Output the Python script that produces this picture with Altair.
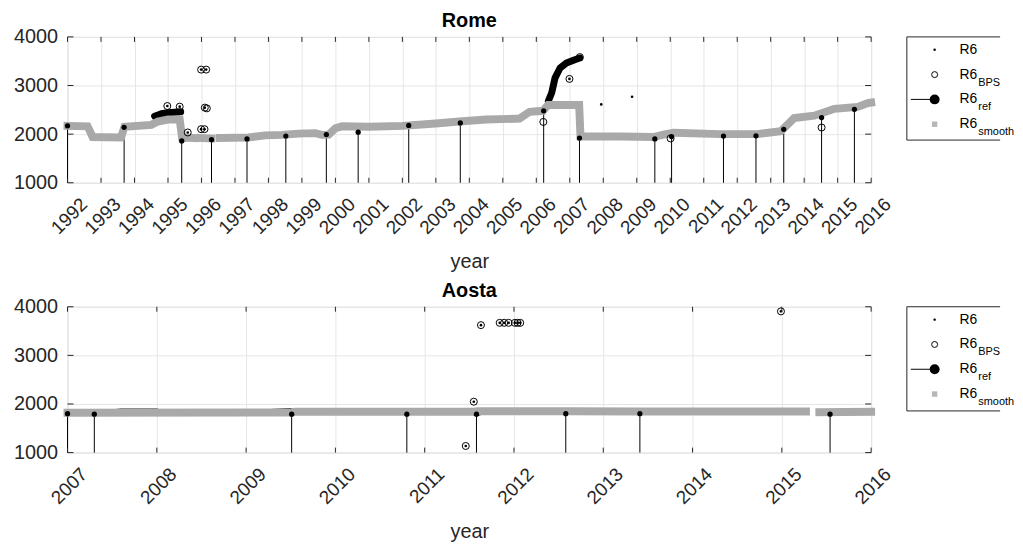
import altair as alt
import pandas as pd

FONT = "Liberation Sans"
W, H = 810, 147
GRAY = "#a9a9a9"
INK = "#262626"

# ---------------- Rome ----------------
rome_ticks = [1992, 1993, 1994, 1995, 1996, 1997, 1998, 1999, 2000, 2001, 2002, 2003,
              2004, 2005, 2006, 2007, 2008, 2009, 2010, 2011, 2012, 2013, 2014, 2015, 2016]

rome_smooth_year = [1992.0, 1992.6, 1992.75, 1993.6, 1993.7, 1994.5, 1994.7, 1995.0, 1995.35, 1995.42, 1995.8,
                    1995.93, 1996.3,
                    1996.55, 1997.4, 1997.9, 1998.4, 1998.9, 1999.4, 1999.6, 1999.8, 2000.0, 2000.2, 2001.0,
                    2002.0, 2003.0, 2003.7, 2004.5, 2005.5, 2005.8, 2006.2, 2006.35, 2007.28, 2007.32, 2008.5,
                    2009.5, 2009.8, 2010.1, 2011.5, 2012.6, 2013.3, 2013.7, 2014.3, 2014.9, 2015.6, 2015.9, 2016.0]
rome_smooth_val = [2170, 2160, 1940, 1930, 2150, 2190, 2260, 2300, 2300, 1930, 1920,
                   1920, 1910,
                   1920, 1930, 1975, 1985, 2010, 2020, 1985, 1990, 2120, 2160, 2150,
                   2170, 2220, 2260, 2300, 2320, 2460, 2480, 2600, 2600, 1950, 1950,
                   1940, 1990, 2030, 2000, 2000, 2060, 2330, 2380, 2520, 2560, 2640, 2650]
rome_smooth_seg = [0] * 11 + [1] * 2 + [2] * 34

rome_raw_year = [1992.0, 1992.6, 1992.72, 1993.6, 1993.68, 1994.5, 1994.6, 1995.38,
                 1995.42, 1995.8,
                 1995.9, 1996.3,
                 1996.6, 1997.4, 1997.9, 1998.5, 1998.9, 1999.4, 1999.6, 1999.8, 2000.0, 2000.7, 2002.0,
                 2003.0, 2003.7, 2004.5, 2005.5, 2005.8, 2006.2, 2006.3,
                 2007.3, 2008.5, 2009.5, 2009.8, 2010.1, 2011.5, 2012.6, 2013.3, 2013.7, 2014.3, 2014.9,
                 2015.6, 2015.9, 2016.0]
rome_raw_val = [2180, 2170, 1930, 1910, 2140, 2200, 2300, 2300,
                1870, 1900,
                1900, 1880,
                1910, 1900, 1990, 1995, 2030, 2035, 1980, 2000, 2140, 2175, 2185,
                2235, 2285, 2315, 2335, 2475, 2495, 2560,
                1935, 1965, 1925, 2005, 2045, 2012, 2012, 2075, 2345, 2395, 2535,
                2575, 2650, 2665]
rome_raw_seg = [0] * 8 + [1] * 2 + [2] * 2 + [3] * 18 + [4] * 14

rome_hi_year = [1994.6, 1994.8, 1995.0, 1995.2, 1995.38,
                2006.36, 2006.46, 2006.56, 2006.71, 2006.9, 2007.15, 2007.3]
rome_hi_val = [2370, 2420, 2440, 2450, 2460,
               2680, 2850, 3157, 3361, 3463, 3531, 3565]
rome_hi_seg = [0] * 5 + [1] * 7

rome_ref_year = [1992.0, 1993.69, 1995.41, 1996.30, 1997.36, 1998.52, 1999.73, 2000.68, 2002.19,
                 2003.73, 2006.22, 2007.29, 2009.54, 2010.04, 2011.59, 2012.56, 2013.39, 2014.52, 2015.50]
rome_ref_val = [2170, 2140, 1860, 1885, 1900, 1960, 1990, 2040, 2180,
                2230, 2480, 1920, 1900, 1950, 1960, 1966, 2100, 2340, 2510]

rome_bps_year = [1994.98, 1995.35, 1995.59, 1995.99, 1996.14, 1996.10, 1996.16, 1995.99, 1996.09,
                 2006.21, 2006.99, 2007.30, 2010.01, 2014.52]
rome_bps_val = [2578, 2565, 2034, 3327, 3327, 2545, 2530, 2102, 2102,
                2251, 3136, 3585, 1912, 2136]

rome_dot_year = [1994.98, 1995.35, 1995.59, 1995.99, 1996.14, 1996.10, 1995.99, 1996.09,
                 2006.99, 2007.30, 2007.94, 2008.86]
rome_dot_val = [2578, 2565, 2034, 3327, 3327, 2545, 2102, 2102,
                3136, 3585, 2612, 2769]

# ---------------- Aosta ----------------
aosta_ticks = [2007, 2008, 2009, 2010, 2011, 2012, 2013, 2014, 2015, 2016]

aosta_smooth_year = [2007.0, 2009.5, 2009.55, 2011.55, 2011.6, 2012.6, 2013.4, 2015.27,
                     2015.42, 2016.0]
aosta_smooth_val = [1820, 1825, 1840, 1840, 1850, 1850, 1845, 1845,
                    1830, 1840]
aosta_smooth_seg = [0] * 8 + [1] * 2

aosta_raw_year = [2007.0, 2007.3, 2007.35, 2007.6, 2008.0, 2008.1, 2009.0, 2009.5, 2009.55, 2010.8,
                  2011.5, 2011.58, 2011.7, 2012.58, 2012.9, 2013.4, 2015.0, 2015.27,
                  2015.42, 2015.8, 2016.0]
aosta_raw_val = [1800, 1870, 1840, 1880, 1880, 1830, 1850, 1890, 1840, 1870,
                 1830, 1770, 1840, 1860, 1840, 1830, 1880, 1840,
                 1790, 1800, 1830]
aosta_raw_seg = [0] * 18 + [1] * 3

aosta_ref_year = [2007.0, 2007.30, 2009.51, 2010.80, 2011.58, 2012.58, 2013.41, 2015.54]
aosta_ref_val = [1800, 1790, 1790, 1790, 1790, 1800, 1800, 1790]

aosta_bps_year = [2011.46, 2011.55, 2011.63, 2011.84, 2011.89, 2011.94, 2012.01, 2012.04, 2012.07, 2014.99]
aosta_bps_val = [1136, 2047, 3622, 3669, 3669, 3669, 3669, 3669, 3669, 3905]

aosta_dot_year = aosta_bps_year
aosta_dot_val = aosta_bps_val

legend_main = ["R6", "R6", "R6", "R6"]
legend_sub = ["", "BPS", "ref", "smooth"]


def panel(title, x0, x1, ticks, sm, raw, hi, ref, bps, dots, box_h):
    xs = alt.Scale(domain=[x0, x1], nice=False, zero=False)
    ys = alt.Scale(domain=[1000, 4000], nice=False, zero=False)
    xaxis = alt.Axis(values=ticks, format="d", labelAngle=-45, labelAlign="right", labelBaseline="top",
                     labelPadding=12, labelOffset=10, ticks=False, domain=False, grid=True,
                     gridColor="#e6e6e6", labelFont=FONT, labelFontSize=19, labelColor=INK,
                     labelOverlap=False, labelFlush=False, title="year", titleFont=FONT,
                     titleFontSize=20, titleFontWeight="normal", titleColor=INK, titlePadding=14)
    yaxis = alt.Axis(values=[1000, 2000, 3000, 4000], format="d", ticks=False, domain=False, grid=True,
                     gridColor="#e6e6e6", labelFont=FONT, labelFontSize=20, labelColor=INK,
                     labelPadding=10, title=None, labelFlush=False)

    def X(f):
        return alt.X(f, type="quantitative", scale=xs, axis=xaxis)

    def Y(f):
        return alt.Y(f, type="quantitative", scale=ys, axis=yaxis)

    d_sm = pd.DataFrame({"year": sm[0], "v": sm[1], "seg": sm[2]})
    d_raw = pd.DataFrame({"year": raw[0], "v": raw[1], "seg": raw[2]})
    d_hi = pd.DataFrame({"year": hi[0], "v": hi[1], "seg": hi[2]})
    d_ref = pd.DataFrame({"year": ref[0], "v": ref[1]})
    d_ref["base"] = 1000
    d_bps = pd.DataFrame({"year": bps[0], "v": bps[1]})
    d_dot = pd.DataFrame({"year": dots[0], "v": dots[1]})
    d_xt = pd.DataFrame({"t": ticks})
    d_yt = pd.DataFrame({"t": [1000, 2000, 3000, 4000]})

    layers = []
    layers.append(alt.Chart(d_raw).mark_line(color="black", strokeWidth=2.5).encode(
        x=X("year"), y=Y("v"), detail="seg:N"))
    if len(hi[0]):
        layers.append(alt.Chart(d_hi).mark_line(color="black", strokeWidth=7, strokeCap="round",
                                                strokeJoin="round").encode(
            x=X("year"), y=Y("v"), detail="seg:N"))
    layers.append(alt.Chart(d_ref).mark_rule(color="black", strokeWidth=1).encode(
        x=X("year"), y=Y("v"), y2="base"))
    layers.append(alt.Chart(d_sm).mark_line(color=GRAY, strokeWidth=8, strokeCap="square").encode(
        x=X("year"), y=Y("v"), detail="seg:N"))
    layers.append(alt.Chart(d_ref).mark_point(shape="circle", filled=True, color="black", size=28,
                                              opacity=1).encode(x=X("year"), y=Y("v")))
    layers.append(alt.Chart(d_bps).mark_point(shape="circle", filled=False, color="black", size=50,
                                              strokeWidth=1, opacity=1).encode(x=X("year"), y=Y("v")))
    layers.append(alt.Chart(d_dot).mark_point(shape="circle", filled=True, color="black", size=7,
                                              opacity=1).encode(x=X("year"), y=Y("v")))
    # inner ticks (MATLAB style)
    layers.append(alt.Chart(d_xt).mark_rule(color=INK).encode(x=X("t"), y=alt.value(H), y2=alt.value(H - 5)))
    layers.append(alt.Chart(d_xt).mark_rule(color=INK).encode(x=X("t"), y=alt.value(0), y2=alt.value(5)))
    layers.append(alt.Chart(d_yt).mark_rule(color=INK).encode(y=Y("t"), x=alt.value(0), x2=alt.value(6)))
    layers.append(alt.Chart(d_yt).mark_rule(color=INK).encode(y=Y("t"), x=alt.value(W), x2=alt.value(W - 6)))

    # legend box (its right side runs past the page edge, as in the reference)
    one = pd.DataFrame({"a": [0]})
    lx = 846
    rx = 940
    layers.append(alt.Chart(one).mark_rect(fill="white").encode(
        x=alt.value(lx), x2=alt.value(rx), y=alt.value(0), y2=alt.value(box_h)))
    layers.append(alt.Chart(one).mark_rule(color=INK).encode(
        x=alt.value(lx), x2=alt.value(rx), y=alt.value(0)))
    layers.append(alt.Chart(one).mark_rule(color=INK).encode(
        x=alt.value(lx), x2=alt.value(rx), y=alt.value(box_h)))
    layers.append(alt.Chart(one).mark_rule(color=INK).encode(
        x=alt.value(lx), y=alt.value(0), y2=alt.value(box_h)))
    mx = lx + 28
    tx = lx + 53
    for i, (m, s) in enumerate(zip(legend_main, legend_sub)):
        yy = 13 + 25 * i
        if i == 0:
            layers.append(alt.Chart(one).mark_point(shape="circle", filled=True, color="black", size=6,
                                                    opacity=1).encode(x=alt.value(mx), y=alt.value(yy)))
        elif i == 1:
            layers.append(alt.Chart(one).mark_point(shape="circle", filled=False, color="black", size=36,
                                                    strokeWidth=1, opacity=1).encode(x=alt.value(mx), y=alt.value(yy)))
        elif i == 2:
            layers.append(alt.Chart(one).mark_rule(color="black", strokeWidth=1).encode(
                x=alt.value(lx + 4), x2=alt.value(mx), y=alt.value(yy)))
            layers.append(alt.Chart(one).mark_point(shape="circle", filled=True, color="black", size=100,
                                                    opacity=1).encode(x=alt.value(mx), y=alt.value(yy)))
        else:
            layers.append(alt.Chart(one).mark_point(shape="square", filled=True, color="#b8b8b8", size=30,
                                                    opacity=1).encode(x=alt.value(mx), y=alt.value(yy)))
        layers.append(alt.Chart(one).mark_text(text=m, font=FONT, fontSize=14, color="black", align="left",
                                               baseline="middle").encode(x=alt.value(tx), y=alt.value(yy)))
        if s:
            layers.append(alt.Chart(one).mark_text(text=s, font=FONT, fontSize=11, color="black", align="left",
                                                   baseline="middle").encode(x=alt.value(tx + 19), y=alt.value(yy + 8)))

    return alt.layer(*layers).properties(
        width=W, height=H,
        title=alt.TitleParams(title, font=FONT, fontSize=20, fontWeight="bold", color="black", offset=-4))


rome = panel("Rome", 1992, 2016, rome_ticks,
             (rome_smooth_year, rome_smooth_val, rome_smooth_seg),
             (rome_raw_year, rome_raw_val, rome_raw_seg),
             (rome_hi_year, rome_hi_val, rome_hi_seg),
             (rome_ref_year, rome_ref_val),
             (rome_bps_year, rome_bps_val),
             (rome_dot_year, rome_dot_val), 104)

aosta = panel("Aosta", 2007, 2016, aosta_ticks,
              (aosta_smooth_year, aosta_smooth_val, aosta_smooth_seg),
              (aosta_raw_year, aosta_raw_val, aosta_raw_seg),
              ([], [], []),
              (aosta_ref_year, aosta_ref_val),
              (aosta_bps_year, aosta_bps_val),
              (aosta_dot_year, aosta_dot_val), 105)

chart = alt.vconcat(rome, aosta, spacing=8).properties(
    padding={"left": 5, "top": 0, "right": 0, "bottom": 0}
).configure_view(stroke=INK, strokeWidth=1).configure(font=FONT, background="white")

chart.save("out.html", embed_options={"renderer": "svg", "actions": False})
